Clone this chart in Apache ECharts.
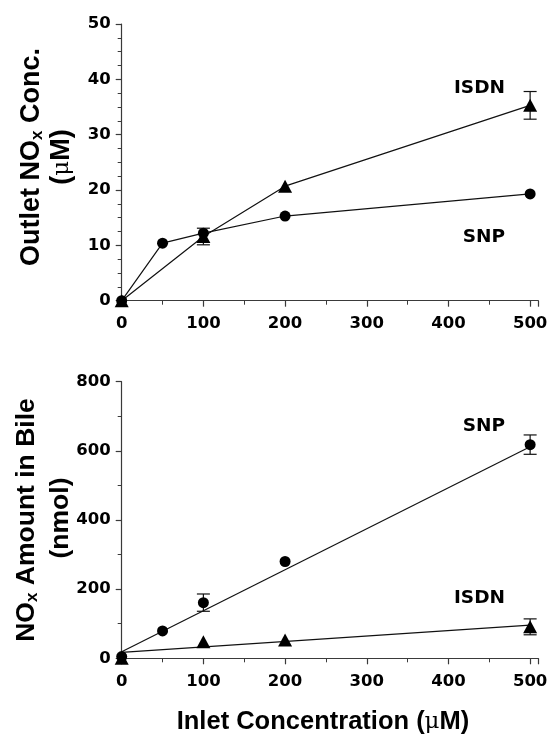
<!DOCTYPE html>
<html>
<head>
<meta charset="utf-8">
<script src="https://cdn.jsdelivr.net/npm/echarts@6/dist/echarts.min.js"></script>
<style>
html,body{margin:0;padding:0;background:#fff;}
#chart{width:551px;height:736px;}
</style>
</head>
<body>
<div id="chart"></div>
<script>
// ---- data ----
var xTicks = [0, 100, 200, 300, 400, 500];

// Top panel: Outlet NOx concentration (uM)
var topSnpX = [0, 50, 100, 200, 500];
var topSnpY = [0, 10.4, 12.2, 15.3, 19.3];
var topIsdnX = [0, 100, 200, 500];
var topIsdnY = [0, 11.6, 20.7, 35.3];
var topIsdnErr = [0, 1.5, 0, 2.5];

// Bottom panel: NOx amount in bile (nmol)
var botSnpX = [0, 50, 100, 200, 500];
var botSnpY = [5, 79, 161, 280, 618];
var botSnpErr = [0, 0, 25, 0, 28];
var botIsdnX = [0, 100, 200, 500];
var botIsdnY = [0, 48, 53, 91];
var botIsdnErr = [0, 0, 0, 23];
// regression lines (end points)
var botSnpFitX = [0, 500];
var botSnpFitY = [19, 612];
var botIsdnFitX = [0, 500];
var botIsdnFitY = [17, 96];

function pairs(xs, ys) { return xs.map(function (x, i) { return [x, ys[i]]; }); }
function errData(xs, ys, es) {
  var out = [];
  xs.forEach(function (x, i) { if (es[i] > 0) out.push([x, ys[i], es[i]]); });
  return out;
}

var INK = '#111';
var AX = '#3a3a3a';
var tickFont = { fontFamily: 'DejaVu Sans', fontWeight: 'bold', fontSize: 16.5, color: '#000' };

function xAxisCfg(gi) {
  return {
    gridIndex: gi, type: 'value', min: 0, max: 510, interval: 100,
    axisLine: { show: true, onZero: false, lineStyle: { color: AX, width: 1.2 } },
    axisTick: { show: true, inside: false, length: 6, lineStyle: { color: AX, width: 1.2 } },
    minorTick: { show: true, splitNumber: 2, length: 4, lineStyle: { color: AX, width: 1 } },
    splitLine: { show: false },
    axisLabel: Object.assign({ margin: 15, showMaxLabel: false,
      formatter: function (v) { return xTicks.indexOf(v) >= 0 ? String(v) : ''; } }, tickFont)
  };
}
function yAxisCfg(gi, max, interval, minorSplit) {
  return {
    gridIndex: gi, type: 'value', min: 0, max: max, interval: interval,
    axisLine: { show: true, onZero: false, lineStyle: { color: AX, width: 1.2 } },
    axisTick: { show: true, inside: false, length: 6, lineStyle: { color: AX, width: 1.2 } },
    minorTick: { show: true, splitNumber: minorSplit, length: 4, lineStyle: { color: AX, width: 1 } },
    splitLine: { show: false },
    axisLabel: Object.assign({ margin: 11 }, tickFont)
  };
}

function errSeries(xi, yi, data) {
  return {
    type: 'custom', xAxisIndex: xi, yAxisIndex: yi, z: 1, silent: true,
    data: data,
    renderItem: function (params, api) {
      var x = api.value(0), y = api.value(1), e = api.value(2);
      var t = api.coord([x, y + e]);
      var b = api.coord([x, y - e]);
      var hw = 6.5;
      var st = { stroke: INK, lineWidth: 1.2 };
      return {
        type: 'group',
        children: [
          { type: 'line', shape: { x1: t[0], y1: t[1], x2: b[0], y2: b[1] }, style: st },
          { type: 'line', shape: { x1: t[0] - hw, y1: t[1], x2: t[0] + hw, y2: t[1] }, style: st },
          { type: 'line', shape: { x1: b[0] - hw, y1: b[1], x2: b[0] + hw, y2: b[1] }, style: st }
        ]
      };
    }
  };
}

var titleFont = 'bold 27px "Liberation Sans", Arial, sans-serif';
var titleFontB = 'bold 26.5px "Liberation Sans", Arial, sans-serif';
var xTitleFont = 'bold 25.5px "Liberation Sans", Arial, sans-serif';
var labelFont = 'bold 18.5px "DejaVu Sans", sans-serif';
var subRich = {
  sub: { font: 'bold 17px "Liberation Sans", Arial, sans-serif', fill: '#000', verticalAlign: 'bottom', padding: [6, 0, 0, 0] },
  mu: { font: '23px "DejaVu Serif", serif', fill: '#000' }
};

function gtext(x, y, text, font, rotate, align) {
  return {
    type: 'text', x: x, y: y, rotation: rotate || 0, z: 10,
    style: { text: text, font: font, fill: '#000', align: align || 'center', verticalAlign: 'middle', rich: subRich }
  };
}

var option = {
  backgroundColor: '#fff',
  animation: false,
  grid: [
    { left: 121.7, right: 12.7, top: 24, height: 276.7, containLabel: false },
    { left: 121.7, right: 12.7, top: 381.7, height: 276.6, containLabel: false }
  ],
  xAxis: [xAxisCfg(0), xAxisCfg(1)],
  yAxis: [yAxisCfg(0, 50, 10, 4), yAxisCfg(1, 800, 200, 2)],
  series: [
    errSeries(0, 0, errData(topIsdnX, topIsdnY, topIsdnErr)),
    {
      name: 'SNP', type: 'line', xAxisIndex: 0, yAxisIndex: 0, z: 3,
      data: pairs(topSnpX, topSnpY), symbol: 'circle', symbolSize: 11,
      lineStyle: { color: INK, width: 1.2 }, itemStyle: { color: '#000', opacity: 1 }, clip: false
    },
    {
      name: 'ISDN', type: 'line', xAxisIndex: 0, yAxisIndex: 0, z: 2,
      data: pairs(topIsdnX, topIsdnY), symbol: 'triangle', symbolSize: [14, 13],
      lineStyle: { color: INK, width: 1.2 }, itemStyle: { color: '#000', opacity: 1 }, clip: false
    },
    errSeries(1, 1, errData(botSnpX, botSnpY, botSnpErr)),
    errSeries(1, 1, errData(botIsdnX, botIsdnY, botIsdnErr)),
    {
      name: 'SNP fit', type: 'line', xAxisIndex: 1, yAxisIndex: 1, z: 2,
      data: pairs(botSnpFitX, botSnpFitY), showSymbol: false, symbol: 'none',
      lineStyle: { color: INK, width: 1.2 }
    },
    {
      name: 'ISDN fit', type: 'line', xAxisIndex: 1, yAxisIndex: 1, z: 2,
      data: pairs(botIsdnFitX, botIsdnFitY), showSymbol: false, symbol: 'none',
      lineStyle: { color: INK, width: 1.2 }
    },
    {
      name: 'SNP pts', type: 'scatter', xAxisIndex: 1, yAxisIndex: 1, z: 3,
      data: pairs(botSnpX, botSnpY), symbol: 'circle', symbolSize: 11,
      itemStyle: { color: '#000', opacity: 1 }, clip: false
    },
    {
      name: 'ISDN pts', type: 'scatter', xAxisIndex: 1, yAxisIndex: 1, z: 3,
      data: pairs(botIsdnX, botIsdnY), symbol: 'triangle', symbolSize: [14, 13],
      itemStyle: { color: '#000', opacity: 1 }, clip: false
    }
  ],
  graphic: [
    gtext(505, 88, 'ISDN', labelFont, 0, 'right'),
    gtext(505, 237, 'SNP', labelFont, 0, 'right'),
    gtext(505, 426, 'SNP', labelFont, 0, 'right'),
    gtext(505, 598, 'ISDN', labelFont, 0, 'right'),
    gtext(32, 157, 'Outlet NO{sub|x} Conc.', titleFont, Math.PI / 2),
    gtext(62, 157, '({mu|μ}M)', titleFont, Math.PI / 2),
    gtext(27, 520, 'NO{sub|x} Amount in Bile', titleFontB, Math.PI / 2),
    gtext(61, 518, '(nmol)', titleFontB, Math.PI / 2),
    gtext(323, 722, 'Inlet Concentration ({mu|μ}M)', xTitleFont, 0)
  ]
};

var chart = echarts.init(document.getElementById('chart'), null, { renderer: 'canvas' });
chart.setOption(option);
</script>
</body>
</html>
